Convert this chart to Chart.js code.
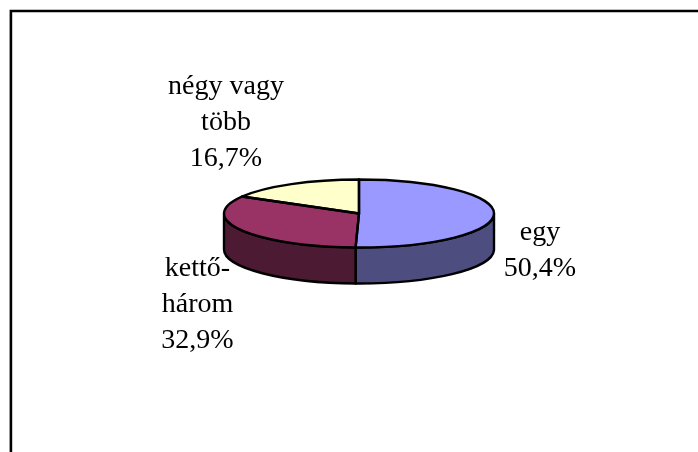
<!DOCTYPE html>
<html>
<head>
<meta charset="utf-8">
<style>
html,body{margin:0;padding:0;background:#fff;overflow:hidden}
#wrap{width:698px;height:452px;position:relative}
</style>
<script src="https://cdn.jsdelivr.net/npm/chart.js@4"></script>
</head>
<body>
<div id="wrap"><canvas id="c" width="698" height="452"></canvas></div>
<script>
const categories = ['egy', 'kettő-három', 'négy vagy több'];
const values = [50.4, 32.9, 16.7];
const topColors = ['#9999FF', '#993366', '#FFFFCC'];
const wallColors = ['#4D4D80', '#4D1A33', '#808066'];
const labelLines = [['egy'], ['kettő-', 'három'], ['négy vagy', 'több']];

const SQUASH = 34 / 135, DEPTH = 36, LINE = 2.4;
const labelAnchors = [
  { x: 540, y: 240 },
  { x: 197.5, y: 276 },
  { x: 226, y: 94 }
];

const pie3d = {
  id: 'pie3d',
  beforeDraw(chart) {
    const ctx = chart.ctx;
    ctx.save();
    ctx.strokeStyle = '#000';
    ctx.lineWidth = 2.6;
    ctx.beginPath();
    ctx.moveTo(10.9, chart.height);
    ctx.lineTo(10.9, 11);
    ctx.lineTo(chart.width, 11);
    ctx.stroke();
    ctx.restore();
  },
  beforeDatasetsDraw(chart) {
    const ctx = chart.ctx;
    const arcs = chart.getDatasetMeta(0).data;
    ctx.save();
    ctx.strokeStyle = '#000';
    ctx.lineWidth = LINE;
    ctx.lineJoin = 'round';
    arcs.forEach((el, i) => {
      const a1 = Math.max(el.startAngle, 0), a2 = Math.min(el.endAngle, Math.PI);
      const ry = el.outerRadius * SQUASH;
      if (a2 <= a1) return;
      ctx.beginPath();
      ctx.ellipse(el.x, el.y, el.outerRadius, ry, 0, a1, a2);
      ctx.ellipse(el.x, el.y + DEPTH, el.outerRadius, ry, 0, a2, a1, true);
      ctx.closePath();
      ctx.fillStyle = wallColors[i];
      ctx.fill();
      ctx.stroke();
    });
    ctx.restore();
    const p = arcs[0];
    ctx.save();
    ctx.translate(p.x, p.y);
    ctx.scale(1, SQUASH);
    ctx.translate(-p.x, -p.y);
  },
  afterDatasetsDraw(chart) {
    const ctx = chart.ctx;
    ctx.restore();
    const arcs = chart.getDatasetMeta(0).data;
    ctx.save();
    ctx.strokeStyle = '#000';
    ctx.lineWidth = LINE;
    ctx.lineJoin = 'round';
    arcs.forEach(el => {
      ctx.beginPath();
      ctx.moveTo(el.x, el.y);
      ctx.ellipse(el.x, el.y, el.outerRadius, el.outerRadius * SQUASH, 0, el.startAngle, el.endAngle);
      ctx.closePath();
      ctx.stroke();
    });
    ctx.restore();
    ctx.save();
    ctx.fillStyle = '#000';
    ctx.font = '28px "Liberation Serif"';
    ctx.textAlign = 'center';
    ctx.textBaseline = 'alphabetic';
    labelLines.forEach((lines, i) => {
      const pct = values[i].toFixed(1).replace('.', ',') + '%';
      [...lines, pct].forEach((t, k) => {
        ctx.fillText(t, labelAnchors[i].x, labelAnchors[i].y + k * 36);
      });
    });
    ctx.restore();
  }
};

new Chart(document.getElementById('c'), {
  type: 'pie',
  data: {
    labels: categories,
    datasets: [{ data: values, backgroundColor: topColors, borderWidth: 0 }]
  },
  options: {
    responsive: false,
    animation: false,
    radius: 135,
    layout: { padding: { left: 20, bottom: 25 } },
    plugins: { legend: { display: false }, tooltip: { enabled: false } }
  },
  plugins: [pie3d]
});
</script>
</body>
</html>
